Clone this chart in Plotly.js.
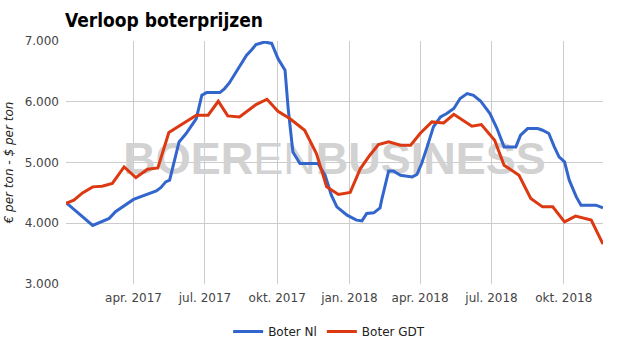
<!DOCTYPE html>
<html>
<head>
<meta charset="utf-8">
<script src="https://cdn.plot.ly/plotly-3.0.1.min.js"></script>
<style>html,body{margin:0;padding:0;background:#fff;}#chart{width:625px;height:355px;}</style>
</head>
<body>
<div id="chart"></div>
<script>
// ---- data ----
var blueName = "Boter Nl";
var blueDates = ["2017-01-05","2017-02-08","2017-03-01","2017-03-09","2017-04-01","2017-04-30","2017-05-06","2017-05-12","2017-05-17","2017-05-29","2017-06-07","2017-06-20","2017-06-27","2017-07-03","2017-07-20","2017-07-26","2017-08-01","2017-08-12","2017-08-23","2017-08-29","2017-09-04","2017-09-15","2017-09-24","2017-10-02","2017-10-11","2017-10-15","2017-10-21","2017-10-30","2017-11-22","2017-12-01","2017-12-09","2017-12-16","2017-12-29","2018-01-10","2018-01-17","2018-01-23","2018-02-01","2018-02-09","2018-02-11","2018-02-20","2018-02-26","2018-03-07","2018-03-22","2018-03-28","2018-04-03","2018-04-10","2018-04-18","2018-04-27","2018-05-05","2018-05-14","2018-05-22","2018-05-31","2018-06-08","2018-06-17","2018-06-29","2018-07-08","2018-07-17","2018-08-01","2018-08-07","2018-08-16","2018-08-29","2018-09-04","2018-09-12","2018-09-19","2018-09-25","2018-10-02","2018-10-08","2018-10-17","2018-10-23","2018-11-11","2018-11-20"];
var blueValues = [4340,3964,4080,4190,4392,4533,4589,4681,4709,5339,5477,5724,6107,6151,6151,6217,6309,6546,6765,6847,6941,6984,6960,6711,6518,5888,5174,4984,4984,4791,4462,4270,4133,4051,4039,4161,4171,4253,4380,4862,4862,4791,4763,4803,4984,5257,5586,5750,5806,5888,6053,6135,6107,6013,5806,5559,5257,5257,5449,5559,5559,5531,5477,5257,5092,5010,4709,4434,4298,4298,4253];

var redName = "Boter GDT";
var redDates = ["2017-01-05","2017-01-15","2017-01-26","2017-02-08","2017-02-20","2017-03-05","2017-03-20","2017-04-04","2017-04-19","2017-05-02","2017-05-16","2017-05-27","2017-06-07","2017-06-20","2017-07-05","2017-07-18","2017-07-30","2017-08-14","2017-09-04","2017-09-18","2017-10-02","2017-10-17","2017-11-05","2017-11-20","2017-12-03","2017-12-18","2018-01-02","2018-01-15","2018-01-27","2018-02-07","2018-02-20","2018-03-07","2018-03-20","2018-04-01","2018-04-16","2018-05-01","2018-05-14","2018-05-27","2018-06-06","2018-06-18","2018-07-05","2018-07-17","2018-08-05","2018-08-20","2018-09-04","2018-09-17","2018-10-02","2018-10-16","2018-11-05","2018-11-20"];
var redValues = [4326,4380,4500,4599,4610,4655,4928,4753,4890,4911,5493,5586,5668,5778,5778,6008,5767,5750,5954,6041,5844,5724,5531,5148,4599,4474,4507,4901,5120,5296,5339,5285,5285,5477,5668,5651,5794,5685,5597,5625,5367,4956,4791,4408,4270,4270,4023,4117,4051,3657];

var xTickVals = ["2017-04-01","2017-07-01","2017-10-01","2018-01-01","2018-04-01","2018-07-01","2018-10-01"];
var xTickText = ["apr. 2017","jul. 2017","okt. 2017","jan. 2018","apr. 2018","jul. 2018","okt. 2018"];
var yTickVals = [3000,4000,5000,6000,7000];

var chartTitle = "Verloop boterprijzen";
var yTitle = "€ per ton - $ per ton";
var watermark = "<b>BOER</b>EN<b>BUSINESS</b>";

// ---- build ----
var xStart = blueDates[0], xEnd = blueDates[blueDates.length - 1];
var yMin = yTickVals[0], yMax = yTickVals[yTickVals.length - 1];
var midDate = new Date((Date.parse(xStart) + Date.parse(xEnd)) / 2).toISOString().slice(0, 10);

var FONT = "DejaVu Sans, sans-serif";

var traces = [
  {
    x: [midDate], y: [(yMin + yMax) / 2], mode: "text", text: [watermark],
    textfont: {family: "Liberation Sans, Arial, sans-serif", size: 45, color: "#d2d2d2"},
    textposition: "middle center", showlegend: false, hoverinfo: "skip", cliponaxis: false
  },
  {
    x: blueDates, y: blueValues, name: blueName, type: "scatter", mode: "lines",
    line: {color: "#3366cc", width: 3}
  },
  {
    x: redDates, y: redValues, name: redName, type: "scatter", mode: "lines",
    line: {color: "#dc3912", width: 3}
  }
];

var layout = {
  width: 625, height: 355,
  paper_bgcolor: "#fff", plot_bgcolor: "#fff",
  margin: {l: 66, r: 22, t: 41, b: 71, autoexpand: false},
  separators: ",.",
  font: {family: FONT, size: 12, color: "#444"},
  title: {
    text: "<b>" + chartTitle + "</b>",
    font: {family: "DejaVu Sans Condensed, DejaVu Sans, sans-serif", size: 19, color: "#000"},
    x: 65 / 625, xanchor: "left", xref: "container",
    y: 1 - 20 / 355, yanchor: "middle", yref: "container"
  },
  xaxis: {
    type: "date", range: [xStart, xEnd],
    tickvals: xTickVals, ticktext: xTickText,
    showgrid: true, gridcolor: "#cccccc", gridwidth: 1,
    showline: false, zeroline: false, ticks: "",
    ticklabelstandoff: 5,
    tickfont: {family: FONT, size: 12, color: "#444"},
    automargin: false, fixedrange: true
  },
  yaxis: {
    range: [yMin, yMax], tickvals: yTickVals, tickformat: ",d",
    showgrid: true, gridcolor: "#cccccc", gridwidth: 1,
    showline: false, zeroline: false, ticks: "",
    ticklabelstandoff: 6,
    tickfont: {family: FONT, size: 12, color: "#444"},
    title: {text: "<i>" + yTitle + "</i>", font: {family: FONT, size: 12, color: "#222"}, standoff: 8},
    automargin: false, fixedrange: true
  },
  showlegend: true,
  legend: {
    orientation: "h", x: 0.49, xanchor: "center",
    yref: "container", y: 1 - 317 / 355, yanchor: "top",
    font: {family: FONT, size: 12, color: "#222"},
    itemwidth: 30, bgcolor: "rgba(0,0,0,0)"
  },
  hovermode: false
};

Plotly.newPlot("chart", traces, layout, {displayModeBar: false, staticPlot: true});
</script>
</body>
</html>
